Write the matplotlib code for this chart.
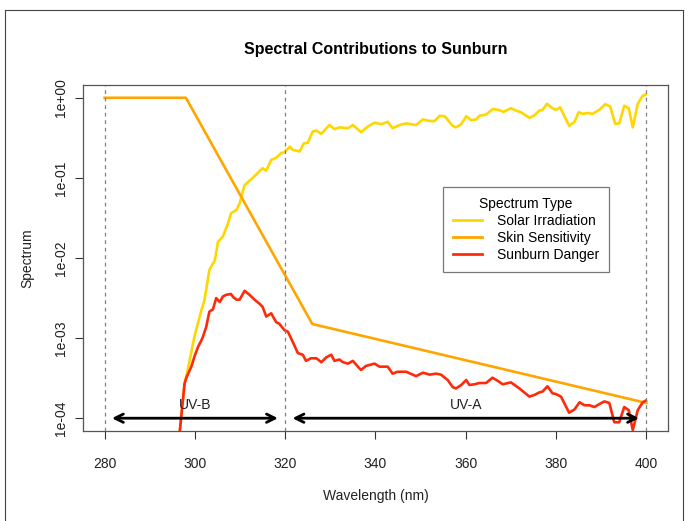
import numpy as np
import matplotlib
matplotlib.use("Agg")
import matplotlib.pyplot as plt
from matplotlib.lines import Line2D

plt.rcParams['font.family'] = ['Liberation Sans', 'DejaVu Sans']

# skin sensitivity (erythema action spectrum)
skin_nm = [280, 298, 326, 400]
skin_val = [1.0, 1.0, 1.5e-3, 1.55e-4]

# solar irradiation (normalised)
solar_nm = [296.6, 297.7, 298.4, 299.9, 301.4, 302.1, 303.2, 304.4, 305.1, 306.2,
            307.3, 308.0, 309.2, 309.9, 311.0, 312.8, 315.0, 315.8, 316.9, 318.0,
            319.1, 319.8, 321.0, 321.7, 323.2, 324.1, 325.0, 326.1, 326.9, 328.0,
            329.8, 330.9, 332.0, 333.9, 335.0, 336.8, 338.3, 339.8, 341.3, 342.7,
            343.8, 345.3, 346.8, 349.0, 350.5, 352.0, 353.1, 354.2, 355.3, 356.0,
            357.1, 357.8, 359.0, 360.1, 361.2, 362.3, 363.0, 364.5, 366.0, 367.1,
            368.4, 370.0, 371.1, 372.2, 374.1, 375.2, 376.3, 377.0, 378.0, 379.2,
            380.0, 380.9, 382.9, 384.1, 385.0, 385.9, 387.0, 388.1, 389.6, 390.9,
            392.0, 393.1, 394.0, 395.1, 396.1, 397.0, 398.1, 399.2, 399.9]
solar_val = [6.5e-5, 2.7e-4, 4.0e-4, 1.05e-3, 2.2e-3, 2.95e-3, 7.1e-3, 9.3e-3, 0.0158, 0.0186,
             0.0269, 0.0363, 0.0398, 0.0479, 0.0813, 0.100, 0.132, 0.123, 0.168, 0.178,
             0.204, 0.209, 0.245, 0.224, 0.214, 0.269, 0.275, 0.380, 0.389, 0.355,
             0.457, 0.407, 0.427, 0.417, 0.457, 0.372, 0.437, 0.490, 0.468, 0.501,
             0.417, 0.457, 0.479, 0.457, 0.537, 0.513, 0.513, 0.596, 0.589, 0.531,
             0.447, 0.427, 0.468, 0.589, 0.525, 0.537, 0.596, 0.617, 0.724, 0.708,
             0.668, 0.741, 0.692, 0.661, 0.562, 0.603, 0.692, 0.708, 0.841, 0.741,
             0.708, 0.759, 0.447, 0.501, 0.661, 0.631, 0.646, 0.631, 0.708, 0.832,
             0.776, 0.473, 0.479, 0.794, 0.741, 0.427, 0.841, 1.06, 1.10]

# sunburn danger
danger_nm = [296.6, 297.7, 298.1, 299.2, 299.9, 300.7, 301.4, 301.8, 302.5, 303.2,
             304.0, 304.7, 305.5, 306.2, 306.9, 308.0, 308.5, 309.2, 309.9, 311.0,
             312.1, 313.2, 314.3, 315.0, 315.8, 316.9, 318.0, 318.7, 319.8, 320.6,
             321.7, 322.8, 323.9, 324.6, 325.7, 326.9, 328.0, 329.1, 330.2, 330.9,
             332.0, 332.8, 333.9, 335.0, 336.1, 336.8, 337.9, 339.8, 340.9, 342.7,
             343.8, 344.9, 346.8, 349.0, 350.5, 352.0, 353.4, 354.5, 356.0, 357.1,
             357.8, 359.0, 360.1, 360.8, 361.9, 363.0, 364.5, 365.9, 367.0, 368.2,
             370.0, 371.9, 374.1, 375.2, 376.3, 377.0, 378.1, 379.2, 380.0, 381.1,
             382.9, 384.1, 385.2, 386.3, 387.4, 388.5, 389.6, 390.7, 391.8, 392.9,
             394.0, 395.1, 396.1, 397.0, 398.1, 399.2, 399.9]
danger_val = [6.5e-5, 2.7e-4, 3.2e-4, 4.4e-4, 5.9e-4, 7.8e-4, 9.3e-4, 1.05e-3, 1.38e-3, 2.14e-3,
              2.29e-3, 3.16e-3, 2.82e-3, 3.31e-3, 3.47e-3, 3.55e-3, 3.24e-3, 3.02e-3, 3.02e-3, 3.89e-3,
              3.47e-3, 3.02e-3, 2.69e-3, 2.45e-3, 1.86e-3, 2.04e-3, 1.58e-3, 1.51e-3, 1.26e-3, 1.20e-3,
              8.9e-4, 6.5e-4, 6.2e-4, 5.2e-4, 5.6e-4, 5.6e-4, 5.0e-4, 5.75e-4, 6.2e-4, 5.2e-4,
              5.4e-4, 5.0e-4, 4.8e-4, 5.2e-4, 4.4e-4, 4.0e-4, 4.5e-4, 4.8e-4, 4.4e-4, 4.4e-4,
              3.6e-4, 3.8e-4, 3.8e-4, 3.35e-4, 3.7e-4, 3.5e-4, 3.6e-4, 3.5e-4, 3.0e-4, 2.45e-4,
              2.35e-4, 2.6e-4, 3.0e-4, 2.6e-4, 2.65e-4, 2.75e-4, 2.75e-4, 3.2e-4, 2.95e-4, 2.65e-4,
              2.8e-4, 2.35e-4, 1.86e-4, 1.95e-4, 2.1e-4, 2.15e-4, 2.5e-4, 2.05e-4, 2.0e-4, 1.86e-4,
              1.17e-4, 1.29e-4, 1.58e-4, 1.45e-4, 1.45e-4, 1.38e-4, 1.5e-4, 1.62e-4, 1.55e-4, 8.9e-5,
              8.9e-5, 1.38e-4, 1.26e-4, 7.1e-5, 1.26e-4, 1.58e-4, 1.66e-4]

band_edges = [280, 320, 400]
band_names = ["UV-B", "UV-A"]
legend_labels = ["Solar Irradiation", "Skin Sensitivity", "Sunburn Danger"]
colors = ["#FFD700", "#FFA500", "#FF2A0A"]

fig = plt.figure(figsize=(6.91, 5.21), dpi=100)
ax = fig.add_axes([0.1201, 0.1727, 0.8466, 0.6642])

# window frame seen in the screenshot
fig.add_artist(Line2D([5/691, 5/691], [0, 1 - 10/521], color="#444444", lw=0.8))
fig.add_artist(Line2D([5/691, 683/691], [1 - 10/521, 1 - 10/521], color="#444444", lw=0.8))
fig.add_artist(Line2D([683/691, 683/691], [0, 1 - 10/521], color="#444444", lw=0.8))

lw = 1.9
ax.plot(solar_nm, solar_val, color=colors[0], lw=lw)
ax.plot(skin_nm, skin_val, color=colors[1], lw=lw)
ax.plot(danger_nm, danger_val, color=colors[2], lw=lw)

for b in band_edges:
    ax.axvline(b, color="#808080", lw=0.9, ls=(0, (3, 3)))

# band arrows and labels
arrow_y = 1.0e-4
label_y = 1.45e-4
for (a, b), name in zip([(281, 319), (321, 399)], band_names):
    ax.annotate("", xy=(b, arrow_y), xytext=(a, arrow_y),
                arrowprops=dict(arrowstyle="<->,head_length=0.6,head_width=0.3", color="black", lw=2))
    ax.text((a + b) / 2, label_y, name, ha="center", va="center", fontsize=10, color="#222222")

ax.set_yscale("log")
ax.set_xlim(275.2, 404.8)
ax.set_ylim(10 ** -4.16, 10 ** 0.16)
ax.set_xticks([280, 300, 320, 340, 360, 380, 400])
ax.set_yticks([1e-4, 1e-3, 1e-2, 1e-1, 1e0])
ax.set_yticklabels(["1e-04", "1e-03", "1e-02", "1e-01", "1e+00"], rotation=90, va="center")
ax.minorticks_off()
ax.tick_params(axis="both", labelsize=10, length=6, width=0.8, color="#333333", labelcolor="#222222")
ax.tick_params(axis="x", pad=13)
ax.tick_params(axis="y", pad=5)
for s in ax.spines.values():
    s.set_color("#555555")
    s.set_linewidth(0.9)

ax.set_xlabel("Wavelength (nm)", fontsize=10, labelpad=13, color="#222222")
ax.set_ylabel("Spectrum", fontsize=10, labelpad=14, color="#222222")
ax.set_title("Spectral Contributions to Sunburn", fontsize=11.5, fontweight="bold", pad=22)

handles = [Line2D([0], [0], color=c, lw=2) for c in colors]
leg = ax.legend(handles, legend_labels, title="Spectrum Type", loc="upper left",
                bbox_to_anchor=(0.615, 0.705), borderaxespad=0, fontsize=10,
                title_fontsize=10, frameon=True, fancybox=False, edgecolor="#555555",
                handlelength=2.1, handletextpad=1.1, labelspacing=0.22, borderpad=0.72)
leg.get_frame().set_linewidth(0.9)

fig.savefig("out.png", dpi=100)
